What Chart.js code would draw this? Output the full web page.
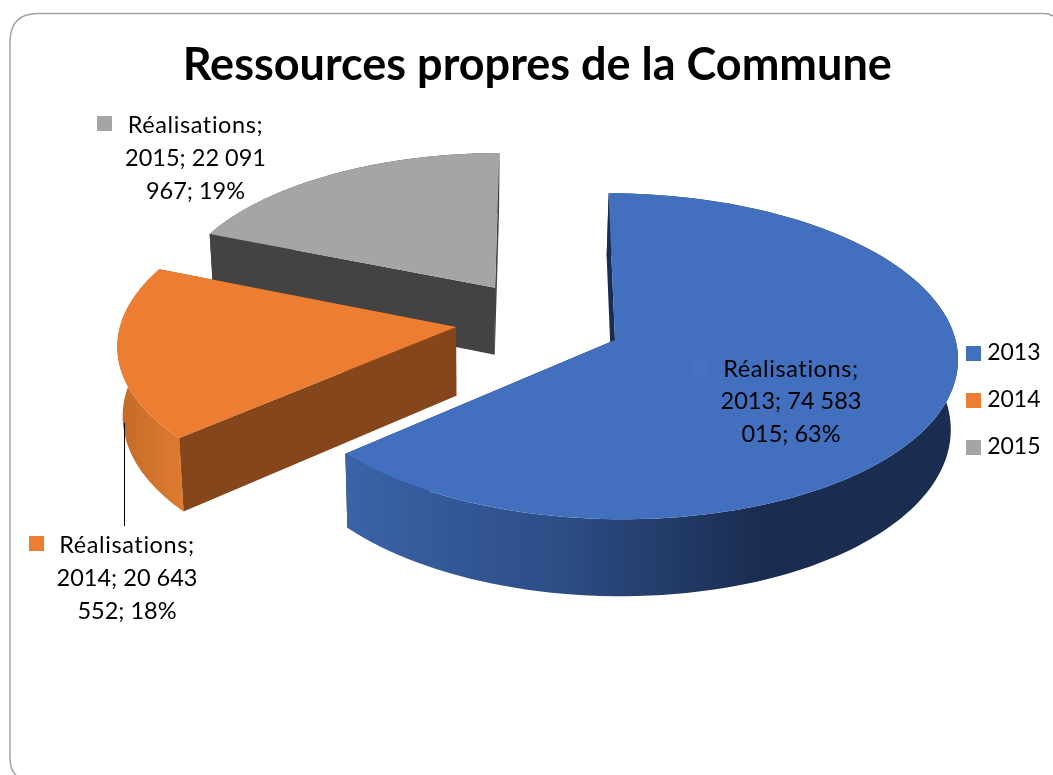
<!DOCTYPE html>
<html>
<head>
<meta charset="utf-8">
<style>html,body{margin:0;padding:0;background:#fff;overflow:hidden}canvas{display:block}</style>
<script src="https://cdn.jsdelivr.net/npm/chart.js@4"></script>
</head>
<body>
<canvas id="c" width="1053" height="775"></canvas>
<script>
const titleText = 'Ressources propres de la Commune';
const categories = ['2013', '2014', '2015'];
const realisations = [74583015, 20643552, 22091967];
const sliceColors = ['#4270bf', '#ed7d31', '#a5a5a5'];
const dataLabelLines = [
  ['Réalisations;', '2013; 74 583', '015; 63%'],
  ['Réalisations;', '2014; 20 643', '552; 18%'],
  ['Réalisations;', '2015; 22 091', '967; 19%']
];

const FONT = 'Lato, Carlito, sans-serif';
const VIEW = {x0: 545, y0: 340, R: 344, Rk: 163, p: 0.1009, H: 69.3, vx: 475, vs: 0.015};
const EXPLODE = [
  {u: 0.2035, v: 0.0, r: 0.99},
  {u: -0.2608, v: -0.081, r: 0.985},
  {u: -0.150, v: -0.332, r: 0.965}
];
const LABEL_POS = [
  {cx: 791, ys: [369.5, 401.5, 434.5], key: [693, 360], keyColor: '#4472c4'},
  {cx: 127, ys: [545, 578, 611], key: [29, 536], keyColor: '#ed7d31'},
  {cx: 195.5, ys: [125, 158, 191], key: [97, 116], keyColor: '#a5a5a5'}
];

function project(u, v, low) {
  const w = 1 - VIEW.p * v;
  let x = VIEW.x0 + VIEW.R * u / w;
  let y = VIEW.y0 + VIEW.Rk * v / w;
  if (low) { x += (VIEW.vx - x) * VIEW.vs; y += VIEW.H / w; }
  return [x, y];
}
function fillPoly(ctx, pts, fill) {
  ctx.beginPath();
  pts.forEach((p, i) => i ? ctx.lineTo(p[0], p[1]) : ctx.moveTo(p[0], p[1]));
  ctx.closePath();
  ctx.fillStyle = fill;
  ctx.fill();
}
function wallGradient(ctx, i) {
  if (i === 0) {
    const g = ctx.createLinearGradient(346, 0, 960, 0);
    g.addColorStop(0, '#3a63a8');
    g.addColorStop(0.35, '#2d4d85');
    g.addColorStop(0.68, '#1a2c50');
    g.addColorStop(1, '#1a2c50');
    return g;
  }
  if (i === 1) {
    const g = ctx.createLinearGradient(117, 0, 181, 0);
    g.addColorStop(0, '#c26a28');
    g.addColorStop(1, '#de7a30');
    return g;
  }
  return '#434343';
}
const faceColors = ['#1a2c50', '#84461a', '#434343'];

const pie3d = {
  id: 'pie3d',
  beforeDatasetDraw(chart) {
    const ctx = chart.ctx;
    const arcs = chart.getDatasetMeta(0).data;
    ctx.save();
    [2, 1, 0].forEach(i => {
      const a = arcs[i], e = EXPLODE[i];
      const steps = 120, top = [], low = [];
      for (let s = 0; s <= steps; s++) {
        const t = a.startAngle + (a.endAngle - a.startAngle) * s / steps;
        const u = e.u + e.r * Math.cos(t), v = e.v + e.r * Math.sin(t);
        top.push(project(u, v, false));
        low.push(project(u, v, true));
      }
      const aT = project(e.u, e.v, false), aL = project(e.u, e.v, true);
      fillPoly(ctx, [aT, top[steps], low[steps], aL], faceColors[i]);
      fillPoly(ctx, top.concat(low.slice().reverse()), wallGradient(ctx, i));
      fillPoly(ctx, [aT, top[0], low[0], aL], faceColors[i]);
      fillPoly(ctx, [aT].concat(top), a.options.backgroundColor);
    });
    ctx.restore();
    return false;
  },
  afterDraw(chart) {
    const ctx = chart.ctx;
    ctx.save();
    // frame
    ctx.strokeStyle = '#a3a3a3';
    ctx.lineWidth = 1.5;
    ctx.beginPath();
    ctx.moveTo(16, 775);
    ctx.quadraticCurveTo(10, 770, 10, 758);
    ctx.lineTo(10, 42);
    ctx.quadraticCurveTo(10, 13.5, 38, 13.5);
    ctx.lineTo(1043, 13.5);
    ctx.quadraticCurveTo(1049, 13.5, 1053, 16);
    ctx.stroke();
    // leader line
    ctx.strokeStyle = '#000';
    ctx.lineWidth = 1;
    ctx.beginPath();
    ctx.moveTo(124.5, 423);
    ctx.lineTo(124.5, 526);
    ctx.stroke();
    // data labels
    ctx.font = '23.5px ' + FONT;
    ctx.textAlign = 'center';
    ctx.textBaseline = 'middle';
    dataLabelLines.forEach((lines, i) => {
      const lp = LABEL_POS[i];
      ctx.fillStyle = lp.keyColor;
      ctx.fillRect(lp.key[0], lp.key[1], 15, 15);
      ctx.fillStyle = '#000';
      lines.forEach((s, j) => {
        ctx.letterSpacing = j === 0 ? '0.6px' : '0px';
        ctx.fillText(s, lp.cx, lp.ys[j]);
      });
    });
    ctx.restore();
  }
};

function keyCanvas(color) {
  const k = document.createElement('canvas');
  k.width = 15; k.height = 15;
  const c = k.getContext('2d');
  c.fillStyle = color;
  c.fillRect(0, 0, 15, 15);
  return k;
}

new Chart(document.getElementById('c'), {
  type: 'pie',
  data: {
    labels: categories,
    datasets: [{data: realisations, backgroundColor: sliceColors, borderWidth: 0}]
  },
  plugins: [pie3d],
  options: {
    responsive: false,
    animation: false,
    devicePixelRatio: 1,
    layout: {padding: {left: 24, right: 2.5, top: 38, bottom: 13}},
    plugins: {
      tooltip: {enabled: false},
      title: {
        display: true,
        text: titleText,
        color: '#000',
        font: {family: FONT, size: 45, weight: 'bold', lineHeight: 1.2},
        padding: {top: 0, bottom: 8}
      },
      legend: {
        position: 'right',
        labels: {
          usePointStyle: true,
          pointStyleWidth: 5,
          color: '#000',
          padding: 24,
          font: {family: FONT, size: 23},
          generateLabels(chart) {
            return categories.map((c, i) => ({
              text: c,
              index: i,
              datasetIndex: 0,
              fontColor: '#000',
              fillStyle: sliceColors[i],
              strokeStyle: sliceColors[i],
              lineWidth: 0,
              pointStyle: keyCanvas(sliceColors[i])
            }));
          }
        }
      }
    }
  }
});
</script>
</body>
</html>
